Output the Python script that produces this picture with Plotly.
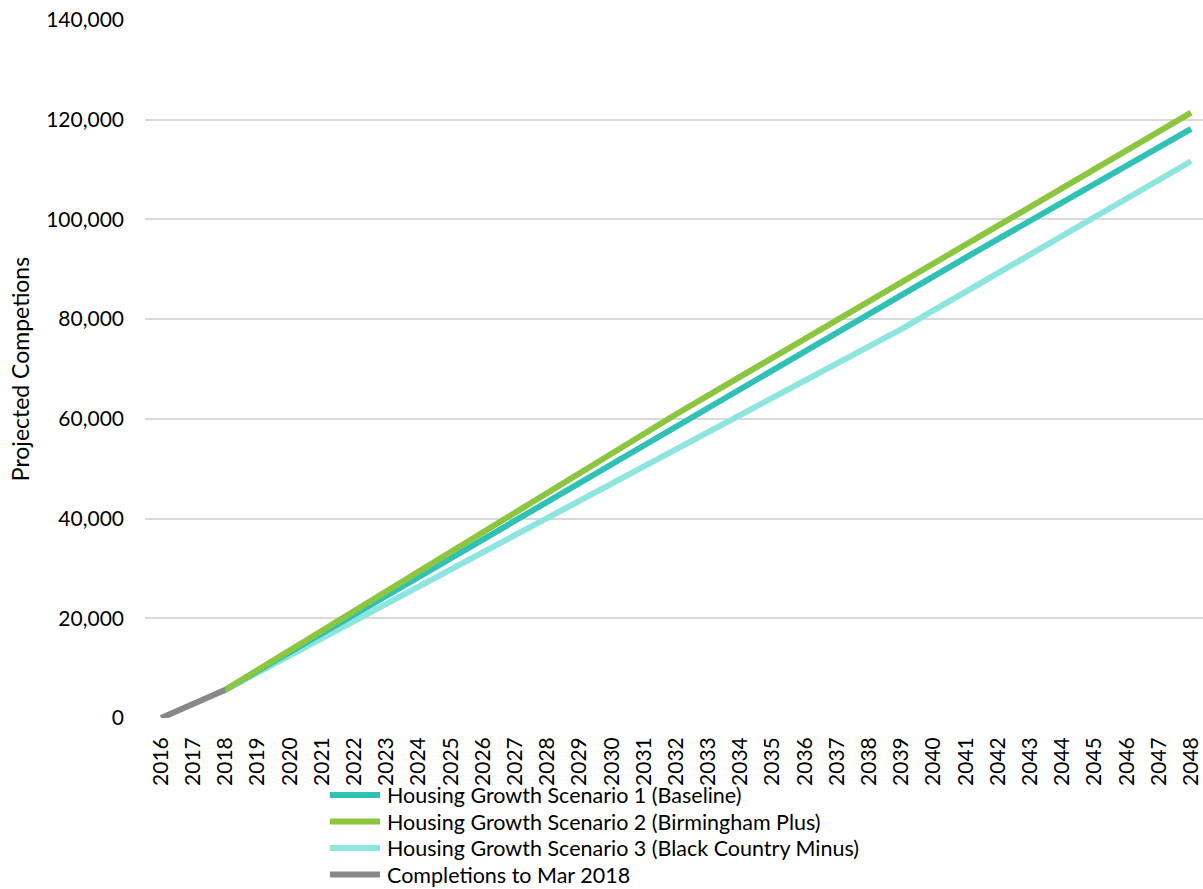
import plotly.graph_objects as go

years = list(range(2016, 2049))
scen_years = list(range(2018, 2049))

completions_years = [2016, 2017, 2018]
completions = [0, 2800, 5670]

# Scenario 1 (Baseline)
scenario1 = [5670, 9450, 13230, 17010, 20790, 24570, 28350, 32130, 35910, 39690,
             43470, 47250, 51030, 54810, 58590, 62370, 66150, 69930, 73710, 77490,
             81270, 84960, 88650, 92340, 96030, 99720, 103410, 107100, 110790, 114480,
             118170]
# Scenario 2 (Birmingham Plus)
scenario2 = [5670, 9630, 13590, 17550, 21510, 25470, 29430, 33390, 37350, 41310,
             45270, 49230, 53190, 57150, 60930, 64710, 68490, 72270, 76050, 79830,
             83610, 87390, 91170, 94950, 98730, 102510, 106290, 110070, 113850, 117630,
             121410]
# Scenario 3 (Black Country Minus)
scenario3 = [5670, 9100, 12530, 15960, 19390, 22820, 26250, 29680, 33110, 36540,
             39970, 43400, 46830, 50260, 53690, 57120, 60550, 63980, 67410, 70840,
             74270, 78010, 81750, 85490, 89230, 92970, 96710, 100450, 104190, 107930,
             111670]

names = ["Housing Growth Scenario 1 (Baseline)",
         "Housing Growth Scenario 2 (Birmingham Plus)",
         "Housing Growth Scenario 3 (Black Country Minus)",
         "Completions to Mar 2018"]
colors = ["#2FC1B6", "#8CC63F", "#8DE5DF", "#888888"]

y_ticks = [0, 20000, 40000, 60000, 80000, 100000, 120000, 140000]

LW = 6
fig = go.Figure()
fig.add_trace(go.Scatter(x=scen_years, y=scenario3, name=names[2], mode="lines",
                         line=dict(color=colors[2], width=LW), showlegend=False))
fig.add_trace(go.Scatter(x=scen_years, y=scenario1, name=names[0], mode="lines",
                         line=dict(color=colors[0], width=LW), showlegend=False))
fig.add_trace(go.Scatter(x=scen_years, y=scenario2, name=names[1], mode="lines",
                         line=dict(color=colors[1], width=LW), showlegend=False))
fig.add_trace(go.Scatter(x=completions_years, y=completions, name=names[3], mode="lines",
                         line=dict(color=colors[3], width=LW), showlegend=False))

# Legend drawn below the chart (layout positions in paper units)
W, H = 1203, 889
ML, MR, MT, MB = 145, 0, 20, 171
pw, ph = W - ML - MR, H - MT - MB
def px(xp):
    return (xp - ML) / pw
def py(yp):
    return (H - MB - yp) / ph

legend_rows = [795.0, 821.5, 848.0, 874.5]
shapes = []
annotations = []
for name, color, yr in zip(names, colors, legend_rows):
    shapes.append(dict(type="line", xref="paper", yref="paper",
                       x0=px(330), x1=px(380), y0=py(yr), y1=py(yr),
                       line=dict(color=color, width=LW)))
    annotations.append(dict(xref="paper", yref="paper", x=px(385), y=py(yr),
                            xanchor="left", yanchor="middle", showarrow=False,
                            text=name, font=dict(size=21.5, color="#000000")))

font = "Lato, 'Open Sans', sans-serif"
fig.update_layout(
    width=W, height=H,
    margin=dict(l=ML, r=MR, t=MT, b=MB, autoexpand=False),
    paper_bgcolor="white", plot_bgcolor="white",
    font=dict(family=font, size=21, color="#000000"),
    showlegend=False,
    shapes=shapes,
    annotations=annotations,
    xaxis=dict(range=[2015.5, 2048.37], tickmode="array", tickvals=years,
               ticktext=[str(y) for y in years], tickangle=-90, showgrid=False,
               zeroline=False, showline=False, ticks="", automargin=False,
               ticklabelstandoff=14, tickfont=dict(size=21)),
    yaxis=dict(range=[0, 140000], tickmode="array", tickvals=y_ticks,
               ticktext=[f"{v:,}" for v in y_ticks], showgrid=True,
               gridcolor="#D9D9D9", gridwidth=1.5, zeroline=False, showline=False,
               ticks="", automargin=False, ticklabelstandoff=20,
               title=dict(text="Projected Competions", standoff=10,
                          font=dict(size=23)),
               tickfont=dict(size=21)),
)
fig.write_html("out.html")
